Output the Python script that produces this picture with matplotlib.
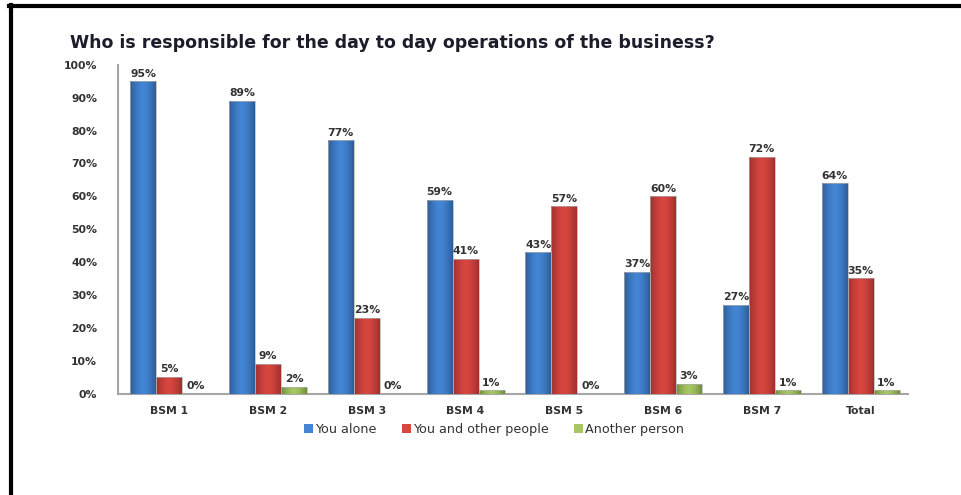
import matplotlib
matplotlib.use("Agg")
import matplotlib.pyplot as plt
from matplotlib.lines import Line2D
from matplotlib.colors import LinearSegmentedColormap
import numpy as np

categories = ["BSM 1", "BSM 2", "BSM 3", "BSM 4", "BSM 5", "BSM 6", "BSM 7", "Total"]
you_alone = [95, 89, 77, 59, 43, 37, 27, 64]
you_and_others = [5, 9, 23, 41, 57, 60, 72, 35]
another_person = [0, 2, 0, 1, 0, 3, 1, 1]

series_names = ["You alone", "You and other people", "Another person"]
# (edge, centre) shades for the rounded-bar look
shades = [("#2d5c98", "#4385d4"), ("#9e302e", "#d7463f"), ("#6f8c38", "#a6c763")]

fig = plt.figure(figsize=(9.61, 4.95), dpi=100)
ax = fig.add_axes([0.1228, 0.205, 0.822, 0.664])

x = np.arange(len(categories))
w = 0.263
txt = "#333333"
grad = np.abs(np.linspace(-1, 1, 64)) ** 1.6
grad = grad[np.newaxis, :]

for i, (vals, name) in enumerate(zip([you_alone, you_and_others, another_person], series_names)):
    edge_c, mid_c = shades[i]
    cmap = LinearSegmentedColormap.from_list(name, [mid_c, edge_c])
    pos = x + (i - 1) * w + 0.02
    bars = ax.bar(pos, [v / 100 for v in vals], width=w, color=mid_c,
                  edgecolor="none", label=name, zorder=3)
    for b in bars:
        if b.get_height() <= 0:
            continue
        x0, y0 = b.get_x(), b.get_y()
        im = ax.imshow(grad, cmap=cmap, aspect="auto", zorder=3.5,
                       extent=[x0, x0 + b.get_width(), y0, y0 + b.get_height()])
        im.set_clip_path(b)
        ax.add_patch(plt.Rectangle((x0, y0), b.get_width(), b.get_height(),
                                   fill=False, edgecolor="#b0b0b0", linewidth=0.5, zorder=3.6))
    for p, v in zip(pos, vals):
        ax.text(p, v / 100 + 0.008, f"{v}%", ha="center", va="bottom",
                fontsize=7.8, fontweight="bold", color=txt, zorder=4)

ax.set_xlim(-0.5, len(categories) - 0.5)
ax.set_ylim(0, 1.0)
ax.set_yticks(np.arange(0, 1.01, 0.1))
ax.set_yticklabels([f"{int(round(t * 100))}%" for t in np.arange(0, 1.01, 0.1)])
ax.set_xticks(x + 0.02)
ax.set_xticklabels(categories)
ax.tick_params(axis="both", length=0, labelsize=7.8, colors=txt)
ax.tick_params(axis="y", pad=15)
ax.tick_params(axis="x", pad=9)
for lab in ax.get_xticklabels() + ax.get_yticklabels():
    lab.set_fontweight("bold")

for s in ["top", "right"]:
    ax.spines[s].set_visible(False)
for s in ["left", "bottom"]:
    ax.spines[s].set_color("#a6a6a6")
    ax.spines[s].set_linewidth(1.5)

fig.text(0.073, 0.913, "Who is responsible for the day to day operations of the business?",
         fontsize=12.5, fontweight="bold", color="#1c1c2a", va="center", ha="left")

leg = fig.legend(loc="center", bbox_to_anchor=(0.514, 0.133), ncol=3, frameon=False,
                 fontsize=9.2, handlelength=0.7, handleheight=0.7, handletextpad=0.15,
                 columnspacing=2.0)
for t in leg.get_texts():
    t.set_color(txt)

# black frame lines on top and left
fig.add_artist(Line2D([0.0094, 1.0], [0.988, 0.988], transform=fig.transFigure,
                      color="black", linewidth=3))
fig.add_artist(Line2D([0.0115, 0.0115], [0.0, 0.99], transform=fig.transFigure,
                      color="black", linewidth=3))

fig.savefig("out.png", dpi=100, facecolor="white")
